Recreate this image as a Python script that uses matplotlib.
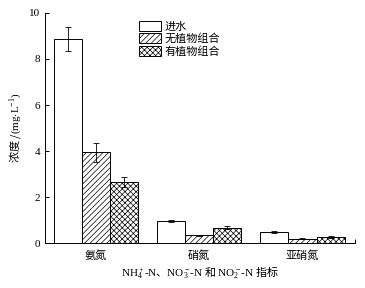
import numpy as np
import matplotlib
matplotlib.use("Agg")
import matplotlib.pyplot as plt

plt.rcParams["font.family"] = ["Liberation Serif", "Noto Sans CJK SC"]
plt.rcParams["mathtext.fontset"] = "custom"
plt.rcParams["mathtext.rm"] = "Liberation Serif"
plt.rcParams["mathtext.it"] = "Liberation Serif:italic"
plt.rcParams["hatch.linewidth"] = 0.5

categories = ["氨氮", "硝氮", "亚硝氮"]
series = ["进水", "无植物组合", "有植物组合"]
inflow = [8.85, 0.95, 0.48]
inflow_err = [0.52, 0.05, 0.03]
no_plant = [3.95, 0.33, 0.18]
no_plant_err = [0.42, 0.02, 0.02]
plant = [2.65, 0.67, 0.27]
plant_err = [0.22, 0.06, 0.05]

fig = plt.figure(figsize=(3.65, 2.88), dpi=100)
ax = fig.add_axes([0.123, 0.156, 0.85, 0.799])

x = np.arange(len(categories))
w = 0.272
hatches = ["", "//////", "xxxxxx"]
for i, (vals, errs) in enumerate([(inflow, inflow_err), (no_plant, no_plant_err),
                                  (plant, plant_err)]):
    ax.bar(x + (i - 1) * w, vals, w, yerr=errs, color="white", edgecolor="black",
           linewidth=0.7, hatch=hatches[i], label=series[i],
           error_kw=dict(ecolor="black", elinewidth=0.6, capsize=2.5, capthick=0.6))

ax.set_xlim(-0.495, 2.51)
ax.set_ylim(0, 10)
ax.set_yticks([0, 2, 4, 6, 8, 10])
ax.set_xticks(x)
ax.set_xticklabels(categories, fontsize=8)
ax.tick_params(axis="x", length=0, pad=5)
ax.tick_params(axis="y", direction="in", length=3, labelsize=8, width=0.7)
ax.set_xticks([2.51], minor=True)
ax.tick_params(axis="x", which="minor", direction="in", length=3, width=0.7)
for s in ["top", "right"]:
    ax.spines[s].set_visible(False)
for s in ["left", "bottom"]:
    ax.spines[s].set_linewidth(0.7)

# CJK runs outside math use the text's own font, Latin runs go through mathtext
ax.set_ylabel(r"浓度 /$\mathrm{(mg{\cdot}L^{-1})}$", fontsize=8, labelpad=4,
              fontfamily="Noto Sans CJK SC")
ax.set_xlabel("$\\mathrm{NH_4^+\u2010N}$、$\\mathrm{NO_3^-\u2010N}$ 和 "
              "$\\mathrm{NO_2^-\u2010N}$ 指标", fontsize=8, labelpad=3,
              fontfamily="Noto Sans CJK SC")

ax.legend(loc="upper left", bbox_to_anchor=(0.285, 0.99), frameon=False, fontsize=8,
          handlelength=2.0, handleheight=1.0, handletextpad=0.3, labelspacing=0.15,
          borderaxespad=0.1)

fig.savefig("out.png", dpi=100, facecolor="white")
